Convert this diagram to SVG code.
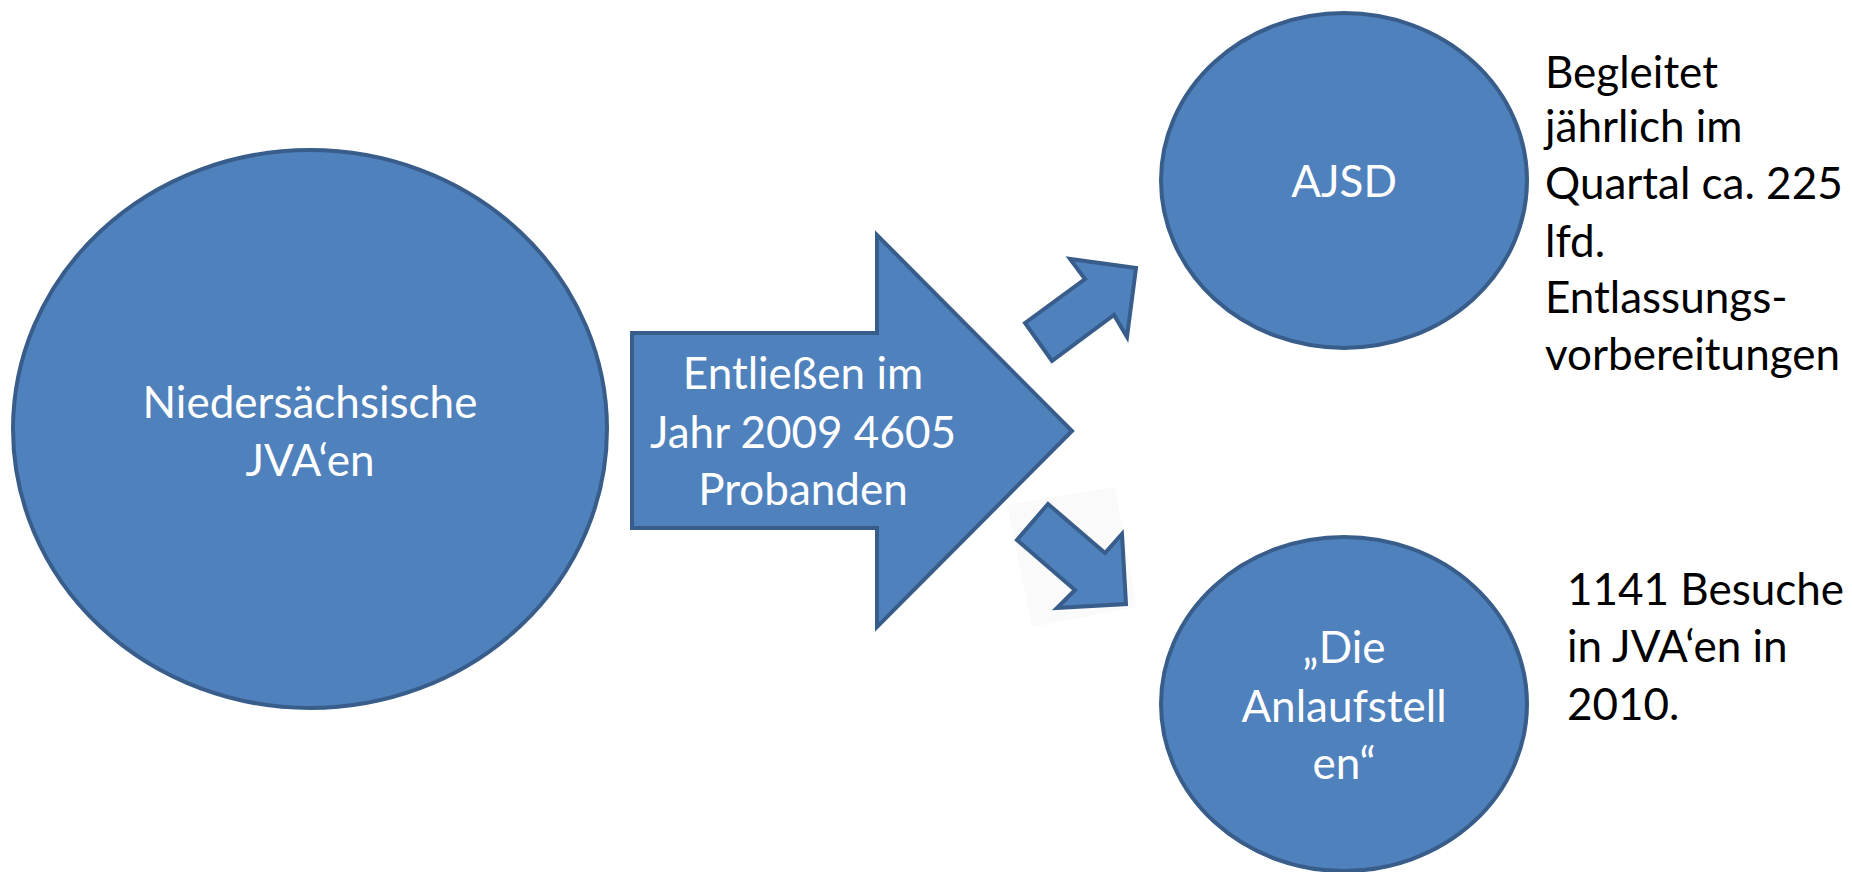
<svg xmlns="http://www.w3.org/2000/svg" width="1852" height="872" viewBox="0 0 1852 872">
<style>
.shape{fill:#4F81BD;stroke:#385D8A;stroke-width:4;stroke-linejoin:miter}
.wt{font-family:Lato,"Open Sans","Liberation Sans",sans-serif;font-size:44px;fill:#FFFFFF;text-anchor:middle}
.bt{font-family:Lato,"Open Sans","Liberation Sans",sans-serif;font-size:44px;fill:#000000}
</style>
<rect width="1852" height="872" fill="#FFFFFF"/>
<g id="node-jva">
<ellipse class="shape" cx="310" cy="429" rx="297" ry="279"/>
<text class="wt" x="310" y="418">Niedersächsische</text>
<text class="wt" x="310" y="476">JVA‘en</text>
</g>
<g id="node-entlassen">
<polygon class="shape" points="632,333 877,333 877,235 1072,431 877,627 877,528 632,528"/>
<text class="wt" x="803" y="389">Entließen im</text>
<text class="wt" x="803" y="448">Jahr 2009 4605</text>
<text class="wt" x="803" y="505">Probanden</text>
</g>
<g id="node-ajsd">
<ellipse class="shape" cx="1344" cy="180.5" rx="183" ry="167.5"/>
<text class="wt" x="1344" y="197">AJSD</text>
</g>
<g id="node-anlaufstellen">
<ellipse class="shape" cx="1344" cy="704" rx="183" ry="167"/>
<text class="wt" x="1344" y="663">„Die</text>
<text class="wt" x="1344" y="722">Anlaufstell</text>
<text class="wt" x="1344" y="779">en“</text>
</g>
<g id="note-ajsd">
<text class="bt" x="1545" y="88">Begleitet</text>
<text class="bt" x="1545" y="142">jährlich im</text>
<text class="bt" x="1545" y="199">Quartal ca. 225</text>
<text class="bt" x="1545" y="257">lfd.</text>
<text class="bt" x="1545" y="313">Entlassungs-</text>
<text class="bt" x="1545" y="370">vorbereitungen</text>
</g>
<g id="note-anlaufstellen">
<text class="bt" x="1567" y="605">1141 Besuche</text>
<text class="bt" x="1567" y="662">in JVA‘en in</text>
<text class="bt" x="1567" y="720">2010.</text>
</g>
<g id="connectors">
<polygon points="1007,505 1115,487 1137,607 1032,627" fill="#FAFAFA" stroke="none"/>
<polygon class="shape" points="1025,323 1085,279 1070,259 1136,268 1127,337 1114,315 1052,361"/>
<polygon class="shape" points="1048,504 1105,553 1122,534 1126,604 1057,608 1075,590 1017,540"/>
</g>
</svg>
